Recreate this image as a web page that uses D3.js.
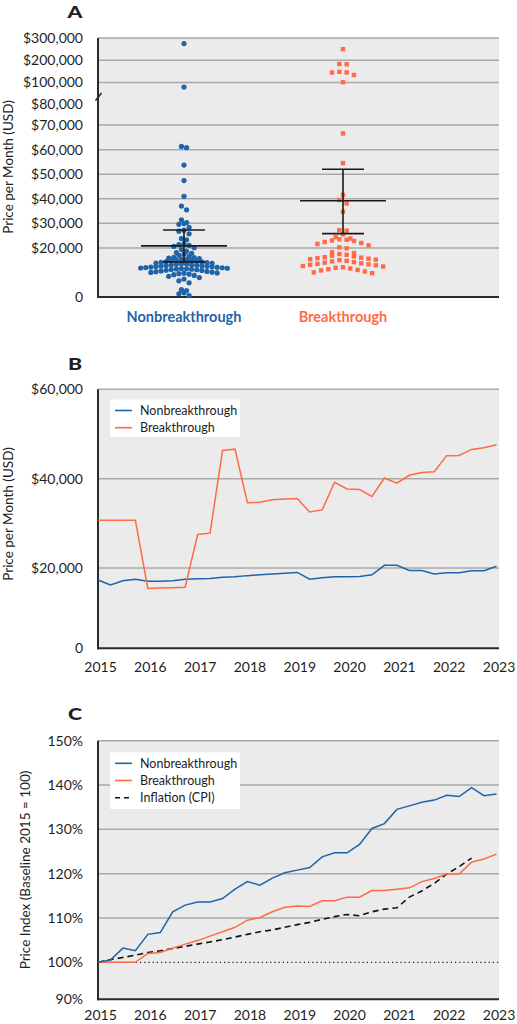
<!DOCTYPE html>
<meta charset="utf-8">
<style>
  body { margin: 0; background: #fff; }
  svg text { font-family: Lato, "Open Sans", sans-serif; fill: #1e1e1e; }
</style>

<div id="chart"></div>

<script src="https://cdn.jsdelivr.net/npm/d3@7"></script>
<script>

// ---------- data ----------
var groups = ["Nonbreakthrough", "Breakthrough"];

// panel A: price per month of each drug (USD)
var nonbreakPrices = [600, 1300, 1700, 2600, 3000, 5800, 6600, 7300, 7900,
  8400, 8800, 9100, 9300, 9500, 9700, 9800, 10000, 10100,
  10300, 10400, 10600, 10800, 10900, 11100, 11200, 11300, 11400, 11500, 11600, 11700, 11800, 11900, 12000, 12100,
  12200, 12300, 12400, 12500, 12600, 12700, 12800, 12900, 13000, 13100, 13300, 13400, 13500, 13700, 13800, 14000, 14100,
  14300, 14400, 14600, 14700, 14900, 15100, 15200, 15400, 15600, 15800, 16000, 16100,
  16500, 17000, 17400, 17800, 18100, 18600, 19300, 20100,
  20600, 21000, 21300, 21600, 23300, 23800, 25700, 26800, 27200, 28400, 29600, 29900, 30300, 31400,
  35500, 37000, 41000, 47400, 53700, 60800, 61300, 95000, 275000];
var breakPrices = [9700, 10000, 10400,
  10800, 11000, 11300, 11600, 11900, 12100, 12400, 12600, 12900, 13100, 13300,
  13500, 13700, 14000, 14200, 14500, 14700, 15000, 15200, 15400, 15600, 15800, 16000,
  16200, 16500, 16800, 17200, 17500, 17900, 18200,
  19800, 20200, 21000, 21600, 22000, 22400, 22800, 23000, 23300, 23500, 23800, 24400, 25500, 27000, 27200,
  34700, 38100, 39500, 41600, 54500, 66600, 101000, 134000, 145000, 145000, 148000, 182000, 183000, 250000];
var errMean = [20800, 39200];
var errLow = [14300, 25800];
var errHigh = [27300, 52000];
var ticksA = [0, 20000, 30000, 40000, 50000, 60000, 70000, 80000, 100000, 200000, 300000];
var gridA = [20000, 30000, 40000, 50000, 60000, 70000, 100000, 200000, 300000];

// panels B and C: quarterly series
var quarters = [2015, 2015.25, 2015.5, 2015.75, 2016, 2016.25, 2016.5, 2016.75,
  2017, 2017.25, 2017.5, 2017.75, 2018, 2018.25, 2018.5, 2018.75,
  2019, 2019.25, 2019.5, 2019.75, 2020, 2020.25, 2020.5, 2020.75,
  2021, 2021.25, 2021.5, 2021.75, 2022, 2022.25, 2022.5, 2022.75, 2023];
var years = [2015, 2016, 2017, 2018, 2019, 2020, 2021, 2022, 2023];

var nonbreakMonthly = [17000, 15800, 16800, 17200, 16700, 16700, 16800, 17200,
  17300, 17400, 17700, 17800, 18100, 18300, 18500, 18700,
  18900, 17200, 17600, 17800, 17800, 17900, 18300, 20600,
  20600, 19400, 19400, 18500, 18800, 18800, 19300, 19300, 20400];
var breakMonthly = [30700, 30700, 30700, 30700, 14900, 15000, 15100, 15200,
  27500, 27800, 46300, 46600, 34600, 34700, 35300, 35450,
  35550, 32550, 33000, 39200, 37700, 37550, 36000, 40150,
  39000, 40750, 41350, 41550, 45150, 45200, 46550, 46900, 47600];
var ticksB = [0, 20000, 40000, 60000];

var nonbreakIndex = [100, 100.5, 103.2, 102.6, 106.3, 106.7, 111.4, 112.9,
  113.6, 113.6, 114.4, 116.5, 118.2, 117.4, 119.0, 120.2,
  120.8, 121.4, 123.8, 124.7, 124.7, 126.6, 130.2, 131.3,
  134.5, 135.3, 136.1, 136.6, 137.7, 137.4, 139.4, 137.6, 138.0];
var breakIndex = [100, 100, 100, 100, 102.0, 102.2, 103.2, 104.1,
  104.9, 105.9, 106.9, 107.9, 109.5, 110.1, 111.4, 112.4,
  112.7, 112.6, 113.9, 113.9, 114.7, 114.7, 116.2, 116.2,
  116.5, 116.8, 118.2, 118.9, 119.9, 119.9, 122.6, 123.3, 124.4];
var cpiIndex = [100, 100.6, 101.1, 101.6, 102.2, 102.6, 103.1, 103.6,
  104.1, 104.6, 105.1, 105.7, 106.3, 106.9, 107.3, 107.9,
  108.5, 109.0, 109.7, 110.3, 110.8, 110.5, 111.4, 112.0,
  112.3, 114.7, 116.1, 117.8, 119.9, 121.6, 123.5];
var ticksC = [90, 100, 110, 120, 130, 140, 150];

// ---------- setup ----------
var blue = "#1f64aa", orange = "#ff6a48", dark = "#2b2b2b", gridCol = "#a9a9a9", bg = "#ebebeb";
var left = 98, right = 499;

var svg = d3.select("#chart").append("svg")
  .attr("width", 517).attr("height", 1024);

var fmtUsd = function(d) { return d === 0 ? "0" : "$" + d3.format(",")(d); };

// draws background, grid, y labels and axis lines of one panel
function frame(y, top, bottom, ticks, grid, fmt) {
  var g = svg.append("g");
  g.append("rect").attr("x", left).attr("y", top)
    .attr("width", right - left).attr("height", bottom - top).attr("fill", bg);
  g.selectAll(".grid").data(grid).enter().append("line")
    .attr("x1", left).attr("x2", right)
    .attr("y1", function(d) { return y(d); }).attr("y2", function(d) { return y(d); })
    .attr("stroke", gridCol).attr("stroke-width", 1.5);
  var ax = g.append("g").attr("transform", "translate(" + left + ",0)")
    .call(d3.axisLeft(y).tickValues(ticks).tickFormat(fmt).tickSize(0).tickPadding(15));
  ax.select(".domain").remove();
  ax.selectAll("text").attr("font-size", 14).attr("fill", "#1e1e1e");
  g.append("line").attr("x1", left).attr("x2", left).attr("y1", top).attr("y2", bottom + 1)
    .attr("stroke", dark).attr("stroke-width", 2);
  g.append("line").attr("x1", left - 1).attr("x2", right).attr("y1", bottom).attr("y2", bottom)
    .attr("stroke", dark).attr("stroke-width", 2);
  return ax;
}

// bold panel letter, a little widened like the original
function panelLabel(txt, yy) {
  svg.append("text").attr("transform", "translate(75," + yy + ") scale(1.25,1)")
    .attr("text-anchor", "middle")
    .attr("font-size", 17).attr("font-weight", 900)
    .text(txt);
}

function yTitle(txt, cx, cy) {
  svg.append("text").attr("transform", "translate(" + cx + "," + cy + ") rotate(-90)")
    .attr("text-anchor", "middle").attr("dy", "0.35em").attr("font-size", 13.5)
    .text(txt);
}

// Prism-like column scatter: points in the same y band are spread around the centre
function swarm(values, y, cx, band, step) {
  var pts = values.map(function(v) { return {v: v, y: y(v)}; })
    .sort(function(a, b) { return b.y - a.y; });
  var bins = [], cur = null;
  pts.forEach(function(p) {
    if (!cur || cur.start - p.y > band) { cur = {start: p.y, pts: []}; bins.push(cur); }
    cur.pts.push(p);
  });
  bins.forEach(function(b) {
    var n = b.pts.length;
    b.pts.sort(function(a, c) { return c.v - a.v; });
    // centre-out order of slots
    var slots = d3.range(n).map(function(i) { return i - (n - 1) / 2; })
      .sort(function(a, c) { return Math.abs(a) - Math.abs(c) || a - c; });
    b.pts.forEach(function(p, i) { p.x = cx + slots[i] * step; });
  });
  return pts;
}

// ---------- panel A ----------
var topA = 38, botA = 297;
var yA = d3.scaleLinear().domain([0, 80000, 100000, 300000]).range([botA, 100.5, 82.5, topA]);
var xA = d3.scalePoint().domain(groups).range([184, 343]);

var axA = frame(yA, topA, botA, ticksA, gridA, fmtUsd);
// the $80,000 label sits a little below its break
axA.selectAll(".tick").filter(function(d) { return d === 80000; }).select("text").attr("dy", "0.55em");
panelLabel("A", 17.5);
yTitle("Price per Month (USD)", 8, 167);

// axis break mark
svg.append("line").attr("x1", 95.5).attr("y1", 100.5).attr("x2", 101.5).attr("y2", 93)
  .attr("stroke", dark).attr("stroke-width", 1.6);

var dotsA = swarm(nonbreakPrices, yA, xA(groups[0]), 4.6, 5.1);
svg.append("g").selectAll("circle").data(dotsA).enter().append("circle")
  .attr("cx", function(d) { return d.x; }).attr("cy", function(d) { return d.y; })
  .attr("r", 2.6).attr("fill", blue);

var sqA = swarm(breakPrices, yA, xA(groups[1]), 6.4, 7.3);
svg.append("g").selectAll("rect").data(sqA).enter().append("rect")
  .attr("x", function(d) { return d.x - 2.2; }).attr("y", function(d) { return d.y - 2.2; })
  .attr("width", 4.4).attr("height", 4.4).attr("fill", orange);

// mean and error bars
var eb = svg.append("g").attr("stroke", "#1a1a1a").attr("stroke-width", 1.6);
groups.forEach(function(gname, i) {
  var cx = xA(gname);
  eb.append("line").attr("x1", cx).attr("x2", cx).attr("y1", yA(errLow[i])).attr("y2", yA(errHigh[i]));
  eb.append("line").attr("x1", cx - 43).attr("x2", cx + 43).attr("y1", yA(errMean[i])).attr("y2", yA(errMean[i]));
  eb.append("line").attr("x1", cx - 21).attr("x2", cx + 21).attr("y1", yA(errLow[i])).attr("y2", yA(errLow[i]));
  eb.append("line").attr("x1", cx - 21).attr("x2", cx + 21).attr("y1", yA(errHigh[i])).attr("y2", yA(errHigh[i]));
});

svg.selectAll(".grp").data(groups).enter().append("text")
  .attr("x", function(d) { return xA(d); }).attr("y", 322)
  .attr("text-anchor", "middle").attr("font-size", 14.5).attr("font-weight", 700)
  .style("fill", function(d, i) { return i === 0 ? blue : orange; })
  .text(function(d) { return d; });

// ---------- shared x ----------
var x = d3.scaleLinear().domain([2015, 2023]).range([98, 496.5]);

function xAxis(bottom, pad) {
  var ax = svg.append("g").attr("transform", "translate(2," + bottom + ")")
    .call(d3.axisBottom(x).tickValues(years).tickFormat(d3.format("d")).tickSize(0).tickPadding(pad));
  ax.select(".domain").remove();
  ax.selectAll("text").attr("font-size", 14).attr("fill", "#1e1e1e");
}

function legend(top, h, items) {
  var g = svg.append("g");
  g.append("rect").attr("x", 110).attr("y", top).attr("width", 130).attr("height", h).attr("fill", "#fff");
  items.forEach(function(it, i) {
    var yy = top + 11 + i * 17.2;
    g.append("line").attr("x1", 115).attr("x2", 132).attr("y1", yy).attr("y2", yy)
      .attr("stroke", it.color).attr("stroke-width", 1.6)
      .attr("stroke-dasharray", it.dash || null);
    g.append("text").attr("x", 140).attr("y", yy).attr("dy", "0.35em")
      .attr("font-size", 12.5).text(it.name);
  });
}

// ---------- panel B ----------
var topB = 389.3, botB = 648.3;
var yB = d3.scaleLinear().domain([0, 20000, 60000]).range([botB, 568, topB]);
frame(yB, topB, botB, ticksB, [20000, 40000, 60000], fmtUsd);
panelLabel("B", 370);
yTitle("Price per Month (USD)", 8, 514);
xAxis(botB, 14);

var lineB = d3.line().x(function(d, i) { return x(quarters[i]); });
svg.append("path").datum(nonbreakMonthly)
  .attr("d", lineB.y(function(d) { return yB(d); }))
  .attr("fill", "none").attr("stroke", blue).attr("stroke-width", 1.5);
svg.append("path").datum(breakMonthly)
  .attr("d", lineB.y(function(d) { return yB(d); }))
  .attr("fill", "none").attr("stroke", orange).attr("stroke-width", 1.5);

legend(399.5, 37.5, [{name: "Nonbreakthrough", color: blue}, {name: "Breakthrough", color: orange}]);

// ---------- panel C ----------
var topC = 740.7, botC = 999.3;
var yC = d3.scaleLinear().domain([90, 100, 150]).range([botC, 962.3, topC]);
frame(yC, topC, botC, ticksC, [110, 120, 130, 140, 150], function(d) { return d + "%"; });
panelLabel("C", 720);
yTitle("Price Index (Baseline 2015 = 100)", 25, 870);
xAxis(botC, 11);

svg.append("line").attr("x1", left).attr("x2", right).attr("y1", yC(100)).attr("y2", yC(100))
  .attr("stroke", "#222").attr("stroke-width", 1.2).attr("stroke-dasharray", "1.2,3");

var lineC = d3.line().x(function(d, i) { return x(quarters[i]); }).y(function(d) { return yC(d); });
svg.append("path").datum(cpiIndex).attr("d", lineC)
  .attr("fill", "none").attr("stroke", "#111").attr("stroke-width", 1.6).attr("stroke-dasharray", "6,4");
svg.append("path").datum(breakIndex).attr("d", lineC)
  .attr("fill", "none").attr("stroke", orange).attr("stroke-width", 1.5);
svg.append("path").datum(nonbreakIndex).attr("d", lineC)
  .attr("fill", "none").attr("stroke", blue).attr("stroke-width", 1.5);

legend(752.3, 56.7, [{name: "Nonbreakthrough", color: blue}, {name: "Breakthrough", color: orange},
  {name: "Inflation (CPI)", color: "#111", dash: "5,4"}]);

</script>
